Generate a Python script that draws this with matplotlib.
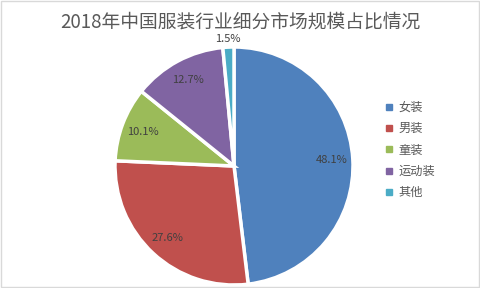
import matplotlib
matplotlib.use("Agg")
import matplotlib.pyplot as plt
import numpy as np
from matplotlib.lines import Line2D
from matplotlib.patches import Rectangle

plt.rcParams['font.family'] = ['Noto Sans CJK SC', 'DejaVu Sans']

title = "2018年中国服装行业细分市场规模占比情况"
categories = ["女装", "男装", "童装", "运动装", "其他"]
values = [48.1, 27.6, 10.1, 12.7, 1.5]
colors = ["#4F81BD", "#C0504D", "#9BBB59", "#8064A2", "#4BACC6"]

W, H = 481, 288
fig = plt.figure(figsize=(W / 100, H / 100), dpi=100)
fig.patch.set_facecolor("white")
fig.patches.append(Rectangle((0.5 / W, 1.5 / H), (W - 2.5) / W, (H - 2.5) / H,
                             transform=fig.transFigure, fill=False,
                             edgecolor="#d9d9d9", linewidth=1))

cx, cy, r = 234, 288 - 166, 119
ax = fig.add_axes([(cx - r) / W, (cy - r) / H, 2 * r / W, 2 * r / H])
wedges, _ = ax.pie(values, colors=colors, startangle=90, counterclock=False,
                   radius=1.0, wedgeprops=dict(edgecolor="white", linewidth=2.5))
ax.set_xlim(-1, 1)
ax.set_ylim(-1, 1)
ax.set_aspect("equal")
ax.axis("off")

for w, v in zip(wedges, values):
    ang = np.deg2rad((w.theta1 + w.theta2) / 2)
    d = 1.07 if v < 3 else 0.82
    ax.text(d * np.cos(ang), d * np.sin(ang), f"{v:.1f}%", ha="center",
            va="center", fontsize=8, color="#404040", clip_on=False)

fig.text(240 / W, 1 - 22 / H, title, ha="center", va="center", fontsize=13.5,
         color="#595959")

handles = [Line2D([0], [0], marker="s", linestyle="none", markersize=4.5,
                  markerfacecolor=c, markeredgecolor=c) for c in colors]
fig.legend(handles, categories, loc="center left",
           bbox_to_anchor=(374 / W, 1 - 150 / H), frameon=False,
           fontsize=8.8, handlelength=0.6, handletextpad=0.5,
           labelspacing=0.68, labelcolor="#595959")

fig.savefig("out.png", dpi=100, facecolor="white")
